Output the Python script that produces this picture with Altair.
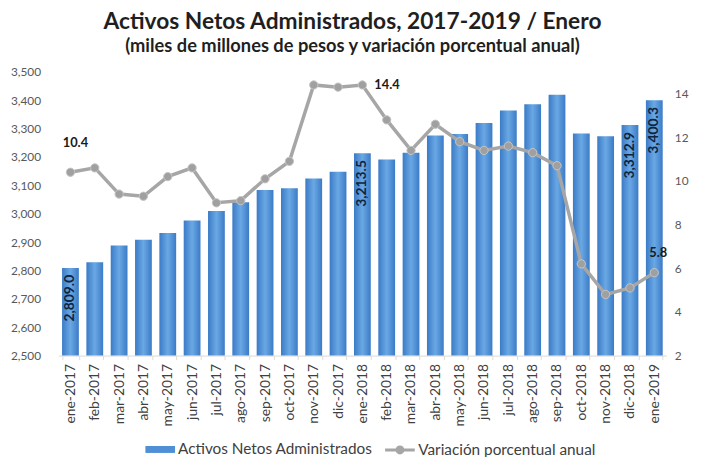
import altair as alt
import pandas as pd

meses = ["ene-2017", "feb-2017", "mar-2017", "abr-2017", "may-2017", "jun-2017",
         "jul-2017", "ago-2017", "sep-2017", "oct-2017", "nov-2017", "dic-2017",
         "ene-2018", "feb-2018", "mar-2018", "abr-2018", "may-2018", "jun-2018",
         "jul-2018", "ago-2018", "sep-2018", "oct-2018", "nov-2018", "dic-2018",
         "ene-2019"]
activos = [2809.0, 2829, 2888, 2908, 2932, 2976, 3010, 3040, 3084, 3090, 3124, 3148,
           3213.5, 3191, 3215, 3276, 3281, 3320, 3364, 3386, 3419, 3283, 3273,
           3312.9, 3400.3]
variacion = [10.4, 10.6, 9.4, 9.3, 10.2, 10.6, 9.0, 9.1, 10.1, 10.9, 14.4, 14.3,
             14.4, 12.8, 11.4, 12.6, 11.8, 11.4, 11.6, 11.3, 10.7, 6.2, 4.8, 5.1, 5.8]
etiquetas_barras = {"ene-2017": "2,809.0", "ene-2018": "3,213.5",
                    "dic-2018": "3,312.9", "ene-2019": "3,400.3"}
etiquetas_linea = {"ene-2017": "10.4", "ene-2018": "14.4", "ene-2019": "5.8"}

S1 = "Activos Netos Administrados"
S2 = "Variación porcentual anual"

df = pd.DataFrame({"mes": meses, "activos": activos, "var": variacion})
df["s1"] = S1
df["s2"] = S2
df["lb"] = df["mes"].map(etiquetas_barras).fillna("")
df["ll"] = df["mes"].map(etiquetas_linea).fillna("")

FONT = "Lato"
base = alt.Chart(df)

x = alt.X("mes:N", sort=meses, title=None,
          scale=alt.Scale(paddingInner=0.31, paddingOuter=0.15),
          axis=alt.Axis(labelAngle=270, labelFontSize=14, labelColor="#404040",
                        labelFont=FONT, domainColor="#d9d9d9", tickColor="#e6dccb",
                        tickSize=4, tickBand="extent", labelPadding=4))

yl = alt.Y("activos:Q", title=None,
           scale=alt.Scale(domain=[2500, 3500], nice=False, zero=False),
           axis=alt.Axis(values=list(range(2500, 3501, 100)),
                         labelExpr="format(datum.value, ',')",
                         grid=False, domain=False, ticks=False, labelPadding=18,
                         labelFontSize=12, labelColor="#595959", labelFont=FONT))

grad = alt.Gradient(gradient="linear", x1=0, x2=1, y1=0, y2=0,
                    stops=[alt.GradientStop(color="#3b7bc6", offset=0),
                           alt.GradientStop(color="#6aa8e4", offset=0.5),
                           alt.GradientStop(color="#3b7bc6", offset=1)])

bars = base.mark_bar(color=grad).encode(x=x, y=yl, y2=alt.datum(2500))

bar_labels = base.transform_filter("datum.lb != ''").mark_text(
    angle=270, align="right", baseline="middle", dx=-7, fontSize=14,
    fontWeight="bold", font=FONT, color="#10243e").encode(
    x=x, y=yl, text="lb:N")

legend_bar = base.mark_point(opacity=0, filled=True, size=1).encode(
    x=x, y=yl,
    fill=alt.Fill("s1:N", scale=alt.Scale(domain=[S1], range=["#4f8fd6"]),
                  legend=alt.Legend(title=None, orient="none", legendX=92, legendY=371,
                                    symbolType="M-1.5,-0.35H1.5V0.35H-1.5Z", symbolSize=400,
                                    symbolOpacity=1, labelFontSize=15.5, labelFont=FONT,
                                    labelColor="#404040", labelOffset=7, labelLimit=400)))

left = alt.layer(bars, bar_labels, legend_bar)

yr = alt.Y("var:Q", title=None,
           scale=alt.Scale(domain=[2, 15], nice=False, zero=False),
           axis=alt.Axis(orient="right", values=list(range(2, 15, 2)), grid=False,
                         domain=False, ticks=False, labelPadding=8, labelFontSize=12,
                         labelColor="#595959", labelFont=FONT))

line = base.mark_line(strokeWidth=3.5).encode(
    x=x, y=yr,
    stroke=alt.Stroke("s2:N", scale=alt.Scale(domain=[S2], range=["#a6a6a6"]),
                      legend=alt.Legend(title=None, orient="none", legendX=334, legendY=371,
                                        symbolType="M-1.5,0H1.5M-0.3,0A0.3,0.3 0 1,0 0.3,0A0.3,0.3 0 1,0 -0.3,0",
                                        symbolSize=400, symbolStrokeWidth=3,
                                        symbolFillColor="#a6a6a6",
                                        labelFontSize=15.5, labelFont=FONT,
                                        labelColor="#404040", labelOffset=7, labelLimit=400)))

points = base.mark_circle(size=70, color="#a0a0a0", opacity=1, stroke="#c4c4c4",
                          strokeWidth=1).encode(x=x, y=yr)

def lab(mes, dx, dy, align):
    return base.transform_filter(alt.datum.mes == mes).mark_text(
        dx=dx, dy=dy, align=align, baseline="middle", fontSize=13, fontWeight="bold",
        font=FONT, color="#1a1a1a").encode(x=x, y=yr, text="ll:N")

right = alt.layer(line, points, lab("ene-2017", 5, -30, "center"),
                  lab("ene-2018", 12, 0, "left"), lab("ene-2019", 4, -20, "center"))

chart = alt.layer(left, right).resolve_scale(y="independent").properties(
    width=615, height=287,
    autosize=alt.AutoSizeParams(type="none"),
    padding={"left": 51, "top": 62, "right": 30, "bottom": 100},
    title=alt.TitleParams(
        text="Activos Netos Administrados, 2017-2019 / Enero",
        subtitle="(miles de millones de pesos y variación porcentual anual)",
        anchor="middle", dx=-10, font=FONT, fontSize=23, fontWeight="bold",
        color="#1f1f1f", subtitleFont=FONT, subtitleFontSize=18.5,
        subtitleFontWeight="bold", subtitleColor="#1f1f1f", subtitlePadding=3,
        offset=11)
).configure_view(stroke=None)

chart.save("out.html", embed_options={"renderer": "svg", "actions": False})
